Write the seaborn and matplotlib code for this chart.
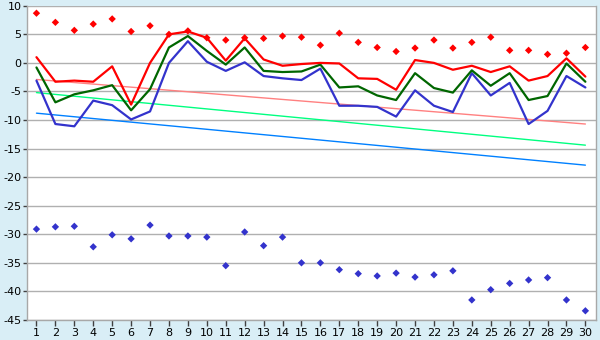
import matplotlib
matplotlib.use("Agg")
import matplotlib.pyplot as plt
import numpy as np
import pandas as pd
import seaborn as sns

# --- data ---
days = list(range(1, 31))

red_line = [1.0, -3.3, -3.1, -3.3, -0.6, -7.3, 0.0, 5.0, 5.5, 4.4,
            0.4, 4.3, 0.6, -0.5, -0.2, 0.0, -0.1, -2.7, -2.8, -4.7,
            0.5, 0.0, -1.2, -0.5, -1.6, -0.6, -3.1, -2.3, 0.8, -2.4]
green_line = [-0.8, -6.9, -5.5, -4.8, -3.9, -8.3, -4.6, 2.7, 4.7, 2.1,
              -0.3, 2.7, -1.4, -1.6, -1.5, -0.3, -4.3, -4.1, -5.7, -6.5,
              -1.8, -4.4, -5.2, -1.3, -4.0, -1.8, -6.5, -5.8, -0.1, -3.3]
blue_line = [-3.1, -10.7, -11.1, -6.6, -7.4, -9.9, -8.5, 0.0, 3.8, 0.2,
             -1.4, 0.1, -2.3, -2.7, -3.0, -1.0, -7.5, -7.5, -7.7, -9.4,
             -4.8, -7.5, -8.6, -1.8, -5.7, -3.5, -10.7, -8.4, -2.3, -4.3]

red_points = [8.7, 7.1, 5.7, 6.8, 7.7, 5.5, 6.5, 5.0, 5.6, 4.4,
              4.0, 4.4, 4.3, 4.7, 4.5, 3.1, 5.2, 3.6, 2.7, 2.0,
              2.6, 4.0, 2.6, 3.6, 4.5, 2.2, 2.2, 1.5, 1.7, 2.7]
blue_points = [-29.1, -28.7, -28.6, -32.2, -30.1, -30.8, -28.4, -30.3, -30.3, -30.5,
               -35.5, -29.6, -32.0, -30.5, -35.0, -35.0, -36.2, -36.9, -37.3, -36.8,
               -37.5, -37.1, -36.4, -41.5, -39.7, -38.6, -38.0, -37.6, -41.5, -43.4]

# trend lines: value at day 1 and at day 30
trend_days = [1, 30]
pink_trend = [-2.9, -10.7]
mint_trend = [-5.2, -14.4]
sky_trend = [-8.8, -17.9]

# --- plotting ---
sns.set_style("white")
plt.rcParams['font.family'] = ['DejaVu Sans']
plt.rcParams['axes.unicode_minus'] = False

bg = '#d9eef6'
fig = plt.figure(figsize=(6, 3.4), dpi=100, facecolor=bg)
ax = fig.add_axes([0.045, 0.059, 0.948, 0.924])
ax.set_facecolor('white')

sns.lineplot(x=trend_days, y=pink_trend, color='#ff8080', linewidth=1, ax=ax)
sns.lineplot(x=trend_days, y=mint_trend, color='#00ff80', linewidth=1, ax=ax)
sns.lineplot(x=trend_days, y=sky_trend, color='#0080ff', linewidth=1, ax=ax)

sns.lineplot(x=days, y=blue_line, color='#3333cc', linewidth=1.6, ax=ax)
sns.lineplot(x=days, y=green_line, color='#006600', linewidth=1.6, ax=ax)
sns.lineplot(x=days, y=red_line, color='#ff0000', linewidth=1.6, ax=ax)

sns.scatterplot(x=days, y=red_points, color='#ff0000', marker='D', s=14,
                edgecolor='none', ax=ax)
sns.scatterplot(x=days, y=blue_points, color='#3333cc', marker='D', s=14,
                edgecolor='none', ax=ax)

ax.set_xlim(0.5, 30.55)
ax.set_ylim(-45, 10)
ax.set_xticks(days)
ax.set_yticks(np.arange(-45, 11, 5))
ax.yaxis.grid(True, color='#b0b0b0', linewidth=1)
ax.xaxis.grid(False)
ax.set_axisbelow(True)

for side in ['left', 'bottom', 'right', 'top']:
    ax.spines[side].set_color('#a8a8a8')
    ax.spines[side].set_linewidth(1)
ax.spines['top'].set_visible(False)

ax.tick_params(axis='both', direction='out', width=1,
               color='#404040', labelsize=8, labelcolor='black')
ax.tick_params(axis='x', bottom=True, length=4, pad=2)
ax.tick_params(axis='y', left=True, length=3, pad=1)

fig.savefig('out.png', dpi=100, facecolor=bg)
